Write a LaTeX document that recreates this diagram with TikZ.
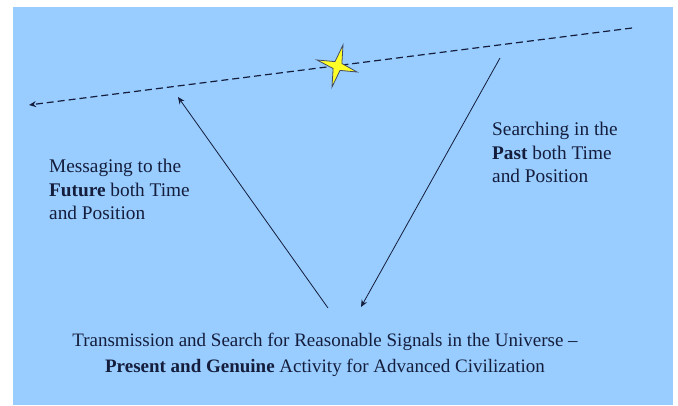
\documentclass[tikz,border=0pt]{standalone}
\usepackage{fontspec}
\setmainfont{Liberation Serif}
\usetikzlibrary{positioning,arrows.meta}
\definecolor{skyback}{RGB}{153,204,255}
\definecolor{linenavy}{RGB}{20,30,60}
\definecolor{staryellow}{RGB}{255,255,40}

\begin{document}
\begin{tikzpicture}[
    x=1pt, y=-1pt,
    sidetext/.style={
      anchor=north west, inner sep=0pt, align=left,
      font=\fontsize{19.3}{23.5}\selectfont, text=linenavy
    },
    basetext/.style={
      anchor=north, inner sep=0pt, align=center,
      font=\fontsize{19}{26}\selectfont, text=linenavy
    },
    signal/.style={-{Stealth[length=7pt,width=6pt]}, line width=0.8pt, linenavy},
  ]
    \useasboundingbox (0,0) rectangle (678,405);
    \fill[skyback] (13,7) rectangle (673,405);

    %── Time line (dashed) ──────────────────────────────────────────────
    \coordinate (tlright) at (632,28);
    \coordinate (tlleft)  at (29,105);
    \draw[signal, line width=1.2pt, dash pattern=on 7pt off 4pt]
      (tlright) -- (tlleft);

    %── Star on the time line ───────────────────────────────────────────
    \coordinate (starc) at (337.5,66);
    \filldraw[fill=staryellow, draw=linenavy!80, line width=0.8pt]
      (343,45) -- (341.9,63.5) -- (357,72) -- (340,70.4)
      -- (332,87) -- (333.1,68.5) -- (317,60) -- (335,61.6) -- cycle;

    %── Messaging and searching arrows ──────────────────────────────────
    \coordinate (msgfrom) at (328,308);
    \coordinate (msgto)   at (178,97);
    \coordinate (srchfrom) at (500,58);
    \coordinate (srchto)   at (361,307);
    \draw[signal] (msgfrom) -- (msgto);
    \draw[signal] (srchfrom) -- (srchto);

    %── Labels ──────────────────────────────────────────────────────────
    \node[sidetext] (future) at (49,159)
      {Messaging to the\\\textbf{Future} both Time\\and Position};
    \node[sidetext] (past) at (492,122)
      {Searching in the\\\textbf{Past} both Time\\and Position};
    \node[basetext] (present) at (325,333)
      {Transmission and Search for Reasonable Signals in the Universe --\\
       \textbf{Present and Genuine} Activity for Advanced Civilization};

  \end{tikzpicture}
\end{document}
